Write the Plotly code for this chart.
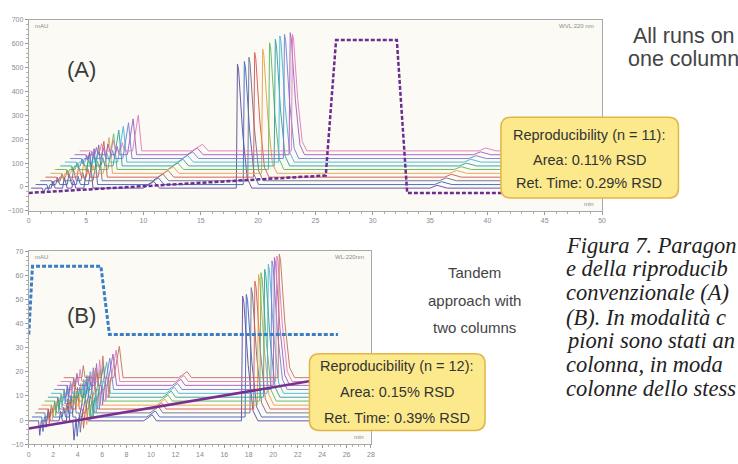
import plotly.graph_objects as go

W, H = 738, 464

# ---------------- Panel A data (11 runs on one column) ----------------
A_RUN_START = [0.2, 0.6, 1.0, 1.45, 1.9, 2.3, 2.75, 3.15, 3.6, 4.0, 4.45]
A_RUN_END = [44.2, 44.6, 45.0, 45.4, 45.9, 46.3, 46.7, 47.1, 47.6, 48.0, 48.4]
A_RUN_BASE = [-5, 10, 26, 41, 57, 73, 88, 104, 119, 135, 151]
A_MAIN_T = [18.2, 18.8, 19.2, 19.7, 20.4, 21.0, 21.5, 21.9, 22.3, 22.8, 23.0]
A_MAIN_TOP = [515, 525, 543, 563, 577, 604, 618, 632, 639, 646, 639]
A_MINOR_DT = [1.1, 1.9, 2.9, 3.7, 5.1, 10.7, 35.4]
A_MINOR_H = [-22, 30, 45, 35, 150, 28, 12]
A_MINOR_WL = [0.12, 0.15, 0.15, 0.15, 0.5, 0.9, 0.6]
A_MINOR_WR = [0.15, 0.2, 0.25, 0.2, 0.3, 0.5, 0.9]
A_GRAD_T = [0, 25.9, 26.8, 32.1, 33.0, 44.0]
A_GRAD_V = [-25, 48, 615, 615, -25, -25]

# ---------------- Panel B data (12 runs, tandem) ----------------
B_RUN_START = [0.0, 0.26, 0.52, 0.78, 1.04, 1.3, 1.56, 1.82, 2.08, 2.34, 2.6, 2.86]
B_RUN_END = [23.0, 23.3, 23.5, 23.8, 24.0, 24.3, 24.6, 24.8, 25.1, 25.3, 25.6, 25.9]
B_RUN_BASE = [-0.3, 1.3, 3.0, 4.6, 6.2, 7.9, 9.5, 11.1, 12.7, 14.4, 16.0, 17.6]
B_MAIN_T = [17.5, 17.8, 18.2, 18.5, 18.8, 19.0, 19.3, 19.6, 19.9, 20.1, 20.3, 20.5]
B_MAIN_TOP = [51.4, 52.1, 54.9, 57.6, 60.4, 61.1, 62.5, 64.6, 66.0, 67.4, 68.0, 68.8]
B_MINOR_DT = [0.9, 1.6, 2.6, 3.2, 3.7, 4.55, 10.1]
B_MINOR_H = [-6, 5, 4, 9, -8, 13, 2.5]
B_MINOR_WL = [0.1, 0.12, 0.12, 0.12, 0.1, 0.45, 0.7]
B_MINOR_WR = [0.12, 0.15, 0.15, 0.15, 0.15, 0.3, 0.35]
B_GRAD_T = [0, 0.3, 5.9, 6.6, 25.3]
B_GRAD_V = [35.5, 63.8, 63.8, 35.5, 35.5]
B_DIAG_T = [0, 24.5]
B_DIAG_V = [-3.5, 17.5]

# main peak outline (relative time, fraction of height)
MAIN_DT = [-0.1, 0.0, 0.1, 0.45, 0.85, 1.25]
MAIN_FRAC = [0, 1, 0.95, 0.45, 0.08, 0]

RUN_COLORS = ["#5b4a9e", "#3d62c4", "#6d6d8a", "#d9534f", "#e8a040", "#5cb85c",
              "#2aa198", "#45b5d8", "#6f7fd8", "#a05cc0", "#e07ab8", "#c07060"]

A_TEXT = ["Reproducibility (n = 11):", "Area: 0.11% RSD", "Ret. Time: 0.29% RSD"]
B_TEXT = ["Reproducibility (n = 12):", "Area: 0.15% RSD", "Ret. Time: 0.39% RSD"]
CAPTION = [
    "Figura 7. Paragon",
    "e della riproducib",
    "convenzionale (A)",
    "(B). In modalità c",
    "pioni sono stati an",
    "colonna, in moda",
    "colonne dello stess",
]


def build_run(start, end, base, dts, hs, wls, wrs, main_t, main_top):
    pts = []
    for dt, h, wl, wr in zip(dts, hs, wls, wrs):
        t = start + dt
        pts += [(t - wl, base), (t, base + h), (t + wr, base)]
    for d, f in zip(MAIN_DT, MAIN_FRAC):
        pts.append((main_t + d, base + f * (main_top - base)))
    pts.sort()
    xs = [start] + [p[0] for p in pts] + [end]
    ys = [base] + [p[1] for p in pts] + [base]
    return xs, ys


fig = go.Figure()

for i in range(len(A_RUN_BASE)):
    xs, ys = build_run(A_RUN_START[i], A_RUN_END[i], A_RUN_BASE[i], A_MINOR_DT, A_MINOR_H,
                       A_MINOR_WL, A_MINOR_WR, A_MAIN_T[i], A_MAIN_TOP[i])
    fig.add_trace(go.Scatter(x=xs, y=ys, mode="lines", xaxis="x", yaxis="y",
                             line=dict(color=RUN_COLORS[i], width=1), opacity=0.9,
                             showlegend=False, hoverinfo="skip"))
fig.add_trace(go.Scatter(x=A_GRAD_T, y=A_GRAD_V, mode="lines", xaxis="x", yaxis="y",
                         line=dict(color="#6b2d8f", width=2.5, dash="4px,2px"),
                         showlegend=False, hoverinfo="skip"))

for i in range(len(B_RUN_BASE)):
    xs, ys = build_run(B_RUN_START[i], B_RUN_END[i], B_RUN_BASE[i], B_MINOR_DT, B_MINOR_H,
                       B_MINOR_WL, B_MINOR_WR, B_MAIN_T[i], B_MAIN_TOP[i])
    fig.add_trace(go.Scatter(x=xs, y=ys, mode="lines", xaxis="x2", yaxis="y2",
                             line=dict(color=RUN_COLORS[i], width=1), opacity=0.9,
                             showlegend=False, hoverinfo="skip"))
fig.add_trace(go.Scatter(x=B_GRAD_T, y=B_GRAD_V, mode="lines", xaxis="x2", yaxis="y2",
                         line=dict(color="#3a7fc4", width=3, dash="4px,2px"),
                         showlegend=False, hoverinfo="skip"))
fig.add_trace(go.Scatter(x=B_DIAG_T, y=B_DIAG_V, mode="lines", xaxis="x2", yaxis="y2",
                         line=dict(color="#7a2f90", width=2.5),
                         showlegend=False, hoverinfo="skip"))


def fx(px):
    return px / W


def fy(py):
    return 1 - py / H


axis_common = dict(showgrid=False, zeroline=False, showline=True, linecolor="#a8a8a8",
                   linewidth=1, mirror=True, ticks="outside", ticklen=3, tickcolor="#9a9a9a",
                   tickfont=dict(size=7, color="#8a8a8a", family="Liberation Sans, Arial"))

fig.update_layout(
    width=W, height=H, margin=dict(l=0, r=0, t=0, b=0),
    paper_bgcolor="white", plot_bgcolor="#fbfaf5",
    xaxis=dict(domain=[fx(27), fx(605)], range=[0, 50], anchor="y", tickvals=list(range(0, 51, 5)),
               minor=dict(dtick=1, ticks="outside", ticklen=2, tickcolor="#b0b0b0"), **axis_common),
    yaxis=dict(domain=[fy(210), fy(16)], range=[-100, 700], anchor="x", tickvals=list(range(-100, 701, 100)),
               minor=dict(dtick=20, ticks="outside", ticklen=2, tickcolor="#b0b0b0"), **axis_common),
    xaxis2=dict(domain=[fx(27), fx(372)], range=[0, 28], anchor="y2", tickvals=list(range(0, 29, 2)),
                minor=dict(dtick=0.5, ticks="outside", ticklen=2, tickcolor="#b0b0b0"), **axis_common),
    yaxis2=dict(domain=[fy(447), fy(251)], range=[-10, 70], anchor="x2", tickvals=list(range(-10, 71, 10)),
                minor=dict(dtick=2, ticks="outside", ticklen=2, tickcolor="#b0b0b0"), **axis_common),
)


def rounded_box(x0p, y0p, x1p, y1p, r=10):
    x0, x1 = fx(x0p), fx(x1p)
    yt, yb = fy(y0p), fy(y1p)
    rx, ry = r / W, r / H
    return (f"M {x0+rx},{yt} L {x1-rx},{yt} Q {x1},{yt} {x1},{yt-ry} L {x1},{yb+ry} "
            f"Q {x1},{yb} {x1-rx},{yb} L {x0+rx},{yb} Q {x0},{yb} {x0},{yb+ry} "
            f"L {x0},{yt-ry} Q {x0},{yt} {x0+rx},{yt} Z")


shapes = []
for (x0p, y0p, x1p, y1p) in [(503, 115, 682, 197), (310, 355, 487, 433)]:
    shapes.append(dict(type="path", xref="paper", yref="paper", layer="above",
                       path=rounded_box(x0p, y0p, x1p, y1p),
                       fillcolor="#fbe98c", line=dict(color="#e3b448", width=1.5)))
fig.update_layout(shapes=shapes)

ann = []


def add_text(text, px, py, size, color="#333333", family="Liberation Sans, Arial", xanchor="center"):
    ann.append(dict(text=text, x=fx(px), y=fy(py), xref="paper", yref="paper", showarrow=False,
                    xanchor=xanchor, yanchor="middle", font=dict(size=size, color=color, family=family)))


for txt, py in zip(A_TEXT, [133, 158, 182]):
    add_text(txt, 592, py, 14.5)
for txt, py in zip(B_TEXT, [368, 394, 420]):
    add_text(txt, 398, py, 14.5)

add_text("All runs on", 634, 32, 21.5, color="#444444", xanchor="left")
add_text("one column", 629, 56, 21.5, color="#444444", xanchor="left")
for txt, py in zip(["Tandem", "approach with", "two columns"], [273, 301, 328]):
    add_text(txt, 476, py, 15, color="#444444")

add_text("(A)", 80, 67, 22, color="#3a3a3a")
add_text("(B)", 80, 316, 22, color="#3a3a3a")

for txt, py in zip(CAPTION, [245, 269, 293, 318, 342, 366, 390]):
    add_text("<i>" + txt + "</i>", 567, py, 22.5, color="#222222",
             family="Liberation Serif, Times New Roman, serif", xanchor="left")

# small instrument labels
add_text("mAU", 31, 22, 6, color="#8a8a8a", xanchor="left")
add_text("WVL:220 nm", 599, 22, 6, color="#8a8a8a", xanchor="right")
add_text("min", 599, 203, 6, color="#8a8a8a", xanchor="right")
add_text("mAU", 31, 257, 6, color="#8a8a8a", xanchor="left")
add_text("WL:220nm", 367, 257, 6, color="#8a8a8a", xanchor="right")
add_text("min", 367, 440, 6, color="#8a8a8a", xanchor="right")

fig.update_layout(annotations=ann)
fig.write_html("out.html")
